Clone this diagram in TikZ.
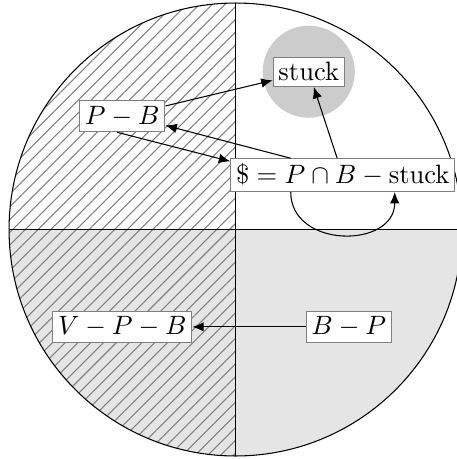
\documentclass[tikz,border=0pt]{standalone}
\usetikzlibrary{patterns.meta,arrows.meta}
\begin{document}
\begin{tikzpicture}[box/.style={draw=gray,fill=white,inner sep=2pt},
    >={Latex[length=4.3pt,width=3.6pt]}]
    % Cuadrantes del círculo y flujo entre los conjuntos.
    \useasboundingbox (-3.12,-3.04) rectangle (2.93,3.04);
    \fill[gray!20] (-3,0) arc[start angle=180,end angle=360,radius=3] -- cycle;
    \fill[pattern={Lines[angle=45,distance=3.4pt,line width=0.4pt]},pattern color=gray] (0,3) arc[start angle=90,end angle=270,radius=3] -- cycle;
    \fill[gray!40] (0.97,2.09) circle (0.61);
    \draw (0,0) circle (3);
    \draw (-3,0) -- (3,0);
    \draw (0,3) -- (0,-3);

    \node[box] (stuck) at (0.97,2.09) {stuck};
    \node[box] (pb) at (-1.5,1.5) {$P-B$};
    \node[box] (dollar) at (1.42,0.72) {$\$=P\cap B-\mathrm{stuck}$};
    \node[box] (vpb) at (-1.5,-1.29) {$V-P-B$};
    \node[box] (bp) at (1.5,-1.29) {$B-P$};

    \draw[->] (pb) -- (stuck);
    \draw[->] (dollar.162) -- (pb.-12);
    \draw[->] (pb.-108) -- (dollar.173);
    \draw[->] (dollar) -- (stuck);
    \draw[->] (dollar.-162) to[out=-90,in=-90,looseness=1.4] (dollar.-18);
    \draw[->] (bp) -- (vpb);
\end{tikzpicture}
\end{document}
